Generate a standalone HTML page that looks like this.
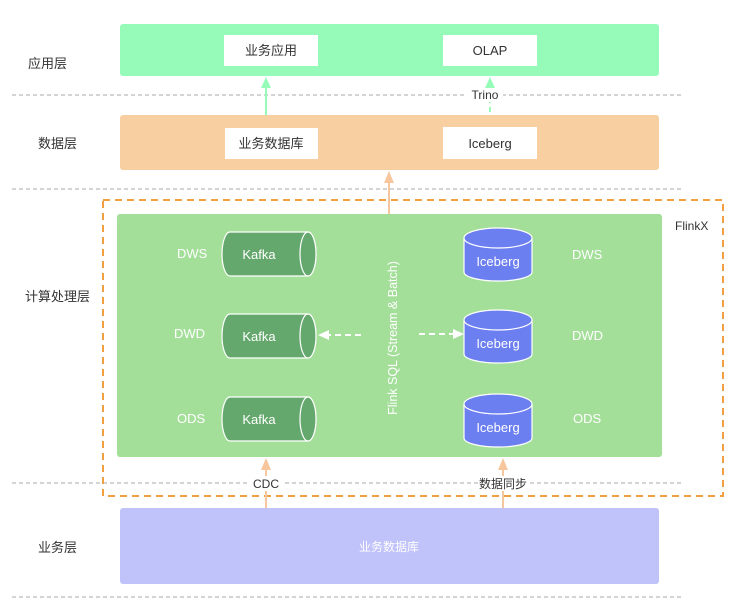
<!DOCTYPE html>
<html><head><meta charset="utf-8"><style>
html,body{margin:0;padding:0;background:#fff;}
svg{display:block;font-family:"Liberation Sans","Noto Sans CJK SC",sans-serif;}
</style></head><body>
<svg width="750" height="610" viewBox="0 0 750 610" xmlns="http://www.w3.org/2000/svg">
<g stroke="#aaa" stroke-width="1" stroke-dasharray="4,3">
<line x1="12" y1="95" x2="683" y2="95"/>
<line x1="12" y1="189" x2="683" y2="189"/>
<line x1="12" y1="483" x2="683" y2="483"/>
<line x1="12" y1="597" x2="683" y2="597"/>
</g>
<g font-size="13" fill="#333">
<text x="28" y="68">应用层</text>
<text x="38" y="148">数据层</text>
<text x="25" y="301">计算处理层</text>
<text x="38" y="552">业务层</text>
</g>
<rect x="120" y="24" width="539" height="52" rx="3" fill="#96fbb9"/>
<rect x="224" y="35" width="94" height="31" fill="#fff"/>
<rect x="443" y="35" width="94" height="31" fill="#fff"/>
<text x="271" y="55" font-size="13" fill="#333" text-anchor="middle">业务应用</text>
<text x="490" y="55" font-size="13" fill="#333" text-anchor="middle">OLAP</text>
<line x1="266" y1="115" x2="266" y2="86" stroke="#96fbb9" stroke-width="2"/>
<path d="M261,88 L266,77 L271,88 Z" fill="#96fbb9"/>
<line x1="490" y1="112" x2="490" y2="86" stroke="#96fbb9" stroke-width="2" stroke-dasharray="5,4"/>
<path d="M485,88 L490,77 L495,88 Z" fill="#96fbb9"/>
<rect x="467" y="88" width="36" height="14" fill="#fff"/>
<text x="485" y="99" font-size="12" fill="#333" text-anchor="middle">Trino</text>
<rect x="120" y="115" width="539" height="55" rx="3" fill="#f7cfa1"/>
<rect x="225" y="128" width="93" height="31" fill="#fff"/>
<rect x="443" y="127" width="94" height="32" fill="#fff"/>
<text x="271" y="148" font-size="13" fill="#333" text-anchor="middle">业务数据库</text>
<text x="490" y="148" font-size="13" fill="#333" text-anchor="middle">Iceberg</text>
<rect x="103" y="200" width="620" height="296" fill="none" stroke="#f0a040" stroke-width="2" stroke-dasharray="7,5"/>
<text x="675" y="230" font-size="12" fill="#333">FlinkX</text>
<rect x="117" y="214" width="545" height="243" rx="3" fill="#a4df9a"/>
<line x1="389" y1="214" x2="389" y2="180" stroke="#f7c69c" stroke-width="2"/>
<path d="M384,183 L389,171 L394,183 Z" fill="#f7c69c"/>
<g font-size="13" fill="#fff">
<text x="177" y="258">DWS</text><text x="174" y="338">DWD</text><text x="177" y="423">ODS</text>
<text x="572" y="259">DWS</text><text x="572" y="340">DWD</text><text x="573" y="423">ODS</text>
</g>
<g stroke="#fff" stroke-width="1.2" fill="#65a86d">
<path d="M230,232 L308,232 A8,22 0 0 1 308,276 L230,276 A8,22 0 0 1 230,232 Z"/>
<ellipse cx="308" cy="254" rx="8" ry="22"/>
<path d="M230,314 L308,314 A8,22 0 0 1 308,358 L230,358 A8,22 0 0 1 230,314 Z"/>
<ellipse cx="308" cy="336" rx="8" ry="22"/>
<path d="M230,397 L308,397 A8,22 0 0 1 308,441 L230,441 A8,22 0 0 1 230,397 Z"/>
<ellipse cx="308" cy="419" rx="8" ry="22"/>
</g>
<g font-size="13" fill="#fff" text-anchor="middle">
<text x="259" y="259">Kafka</text><text x="259" y="341">Kafka</text><text x="259" y="424">Kafka</text>
</g>
<g stroke="#fff" stroke-width="1.2" fill="#6c7ff0">
<path d="M464,238 L464,272 A34,9 0 0 0 532,272 L532,238"/>
<ellipse cx="498" cy="238" rx="34" ry="10"/>
<path d="M464,320 L464,354 A34,9 0 0 0 532,354 L532,320"/>
<ellipse cx="498" cy="320" rx="34" ry="10"/>
<path d="M464,404 L464,438 A34,9 0 0 0 532,438 L532,404"/>
<ellipse cx="498" cy="404" rx="34" ry="10"/>
</g>
<g font-size="13" fill="#fff" text-anchor="middle">
<text x="498" y="266">Iceberg</text><text x="498" y="348">Iceberg</text><text x="498" y="432">Iceberg</text>
</g>
<text transform="translate(397,338) rotate(-90)" font-size="12.5" fill="#fff" text-anchor="middle">Flink SQL (Stream &amp; Batch)</text>
<g stroke="#fff" stroke-width="2" stroke-dasharray="6,4">
<line x1="361" y1="335" x2="328" y2="335"/>
<line x1="419" y1="334" x2="453" y2="334"/>
</g>
<path d="M318,335 L329,330 L329,340 Z" fill="#fff"/>
<path d="M464,334 L453,329 L453,339 Z" fill="#fff"/>
<line x1="266" y1="508" x2="266" y2="468" stroke="#f7c69c" stroke-width="2"/>
<path d="M261,470 L266,458 L271,470 Z" fill="#f7c69c"/>
<line x1="503" y1="508" x2="503" y2="468" stroke="#f7c69c" stroke-width="2"/>
<path d="M498,470 L503,458 L508,470 Z" fill="#f7c69c"/>
<rect x="250" y="476" width="32" height="15" fill="#fff"/>
<text x="266" y="488" font-size="12" fill="#333" text-anchor="middle">CDC</text>
<rect x="478" y="476" width="50" height="15" fill="#fff"/>
<text x="503" y="488" font-size="12" fill="#333" text-anchor="middle">数据同步</text>
<rect x="120" y="508" width="539" height="76" rx="3" fill="#c0c2fa"/>
<text x="389" y="551" font-size="12" fill="#fff" text-anchor="middle">业务数据库</text>
</svg>
</body></html>
